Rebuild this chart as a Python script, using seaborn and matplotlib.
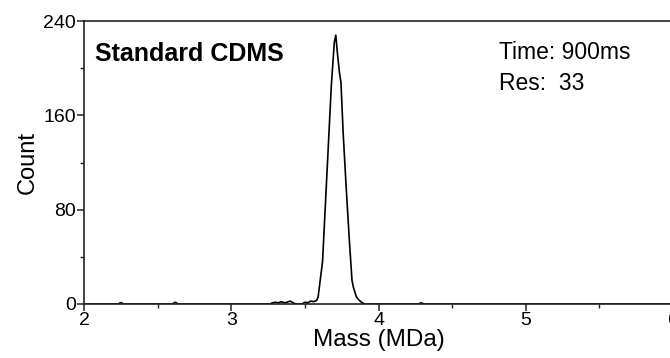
"""Mass histogram trace (Standard CDMS) drawn with seaborn + matplotlib"""
import matplotlib.pyplot as plt
from matplotlib.ticker import MultipleLocator
import seaborn as sns

# mass (MDa) and counts
mass = [2.00, 2.23, 2.25, 2.27, 2.60, 2.62, 2.64, 3.26, 3.28, 3.30, 3.32, 3.34,
        3.36, 3.38, 3.40, 3.42, 3.44, 3.48, 3.50, 3.52, 3.54, 3.56, 3.58, 3.59,
        3.60, 3.62, 3.64, 3.66, 3.68, 3.70, 3.71, 3.72, 3.735, 3.745, 3.76, 3.78,
        3.80, 3.82, 3.83, 3.85, 3.87, 3.89, 3.91, 4.27, 4.29, 4.31, 6.00]
count = [0, 0, 1.2, 0, 0, 1.5, 0, 0, 1, 1.5, 1, 2, 1, 1.5, 2.5, 1, 0, 0, 1.5,
         1, 2.5, 2, 3, 6, 16, 36, 86, 136, 186, 222, 228, 214, 196, 188, 145,
         100, 58, 20, 14, 6, 3, 1, 0, 0, 1, 0, 0]

x_ticks = [2, 3, 4, 5, 6]
y_ticks = [0, 80, 160, 240]

title_text = "Standard CDMS"
time_text = "Time: 900ms"
res_text = "Res:  33"


def main():
    sns.set_style("ticks")
    plt.rcParams['font.family'] = ['Liberation Sans', 'DejaVu Sans']
    plt.rcParams['text.color'] = "black"
    plt.rcParams['axes.labelcolor'] = "black"
    plt.rcParams['xtick.labelcolor'] = "black"
    plt.rcParams['ytick.labelcolor'] = "black"

    fig = plt.figure(figsize=(6.7, 3.58), dpi=100)
    # the right end of the axes runs just past the picture edge
    ax = fig.add_axes([84 / 670, 54 / 358, 589 / 670, 283 / 358])

    sns.lineplot(x=mass, y=count, ax=ax, color="black", linewidth=1.2)

    ax.set_xlim(2, 6)
    ax.set_ylim(0, 240)
    ax.set_xticks(x_ticks)
    ax.set_yticks(y_ticks)
    ax.xaxis.set_minor_locator(MultipleLocator(0.5))
    ax.yaxis.set_minor_locator(MultipleLocator(40))
    ax.tick_params(which="major", length=5, width=1.1, labelsize=14,
                   color="#222222", pad=1)
    ax.tick_params(which="minor", length=3, width=1.0, color="#222222")

    for side in ["left", "bottom", "top", "right"]:
        ax.spines[side].set_visible(True)
        ax.spines[side].set_linewidth(1.2)
        ax.spines[side].set_color("#222222")

    ax.set_xlabel("Mass (MDa)", fontsize=17.5, labelpad=0)
    ax.set_ylabel("Count", fontsize=17, labelpad=3)

    ax.text(0.019, 0.885, title_text, transform=ax.transAxes, fontsize=18,
            fontweight="bold", va="center", ha="left")
    ax.text(0.704, 0.89, time_text, transform=ax.transAxes, fontsize=16.5,
            va="center", ha="left")
    ax.text(0.704, 0.78, res_text, transform=ax.transAxes, fontsize=16.5,
            va="center", ha="left")

    fig.savefig("out.png", dpi=100)


if __name__ == '__main__':
    main()
